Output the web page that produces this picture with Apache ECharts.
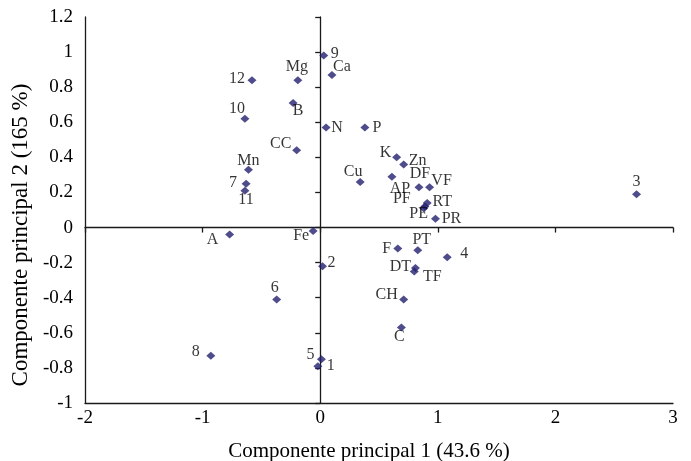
<!DOCTYPE html>
<html>
<head>
<meta charset="utf-8">
<script src="https://cdn.jsdelivr.net/npm/echarts@6/dist/echarts.min.js"></script>
<style>
html,body{margin:0;padding:0;background:#fff;}
#chart{width:691px;height:461px;}
</style>
</head>
<body>
<div id="chart"></div>
<script>
// ---- data ----
var pointNames = ['9','Ca','12','Mg','B','10','N','P','CC','Mn','7','11','Cu','K','Zn','AP','DF','VF','PF','RT','PE','PR','F','PT','4','A','Fe','2','DT','TF','6','CH','C','8','5','1','3'];
var pc1 = [0.03,0.10,-0.58,-0.19,-0.23,-0.64,0.05,0.38,-0.20,-0.61,-0.63,-0.64,0.34,0.65,0.71,0.61,0.84,0.93,0.89,0.91,0.88,0.98,0.66,0.83,1.08,-0.77,-0.06,0.02,0.81,0.80,-0.37,0.71,0.69,-0.93,0.01,-0.02,2.69];
var pc2 = [0.98,0.87,0.84,0.84,0.71,0.62,0.57,0.57,0.44,0.33,0.25,0.21,0.26,0.40,0.36,0.29,0.23,0.23,0.12,0.14,0.11,0.05,-0.12,-0.13,-0.17,-0.04,-0.02,-0.22,-0.23,-0.25,-0.41,-0.41,-0.57,-0.73,-0.75,-0.79,0.19];
var xTicks = {min:-2, max:3, step:1};
var yTicks = {min:-1, max:1.2, step:0.2};
var xTitle = 'Componente principal 1 (43.6 %)';
var yTitle = 'Componente principal 2 (165 %)';

// ---- label placement (style) ----
var labelOffsets = {
  '9':[11,-2],'Ca':[10,-8],'12':[-15,-1],'Mg':[-1,-13],'B':[5,8],'10':[-8,-10],
  'N':[11,0],'P':[12,0],'CC':[-16,-7],'Mn':[0,-9],'7':[-13,-1],'11':[1,9],
  'Cu':[-7,-10],'K':[-11,-5],'Zn':[14,-4],'AP':[8,12],'DF':[1,-13],'VF':[12,-6],
  'PF':[-23,-8],'RT':[15,-1],'PE':[-5,6],'PR':[16,0],'F':[-11,0],'PT':[4,-11],
  '4':[17,-4],'A':[-17,5],'Fe':[-12,5],'2':[9,-3],'DT':[-15,-1],'TF':[18,5],
  '6':[-2,-12],'CH':[-17,-5],'C':[-2,9],'8':[-15,-4],'5':[-11,-4],'1':[13,0],'3':[0,-12]
};

var FONT = '"Liberation Serif","Times New Roman",serif';
var seriesData = pointNames.map(function(n,i){
  return {
    name:n, value:[pc1[i], pc2[i]],
    label:{show:true, formatter:n, position:'inside', offset:labelOffsets[n]||[10,0],
      color:'#000', fontFamily:FONT, fontSize:16, align:'center', verticalAlign:'middle'}
  };
});

var chart = echarts.init(document.getElementById('chart'), null, {renderer:'canvas'});
var lineStyle = {color:'#1a1a1a', width:1.3};
chart.setOption({
  animation:false,
  backgroundColor:'#fff',
  grid:{left:85, right:18, top:17, bottom:58, containLabel:false, outerBoundsMode:'none'},
  xAxis:[
    {type:'value', min:xTicks.min, max:xTicks.max, interval:xTicks.step, position:'bottom',
     axisLine:{onZero:false, lineStyle:lineStyle}, axisTick:{show:false},
     axisLabel:{color:'#000', fontFamily:FONT, fontSize:19, margin:6},
     splitLine:{show:false},
     name:xTitle, nameLocation:'middle', nameGap:38,
     nameTextStyle:{color:'#000', fontFamily:FONT, fontSize:21, padding:[0,20,0,0]}},
    {type:'value', min:xTicks.min, max:xTicks.max, interval:xTicks.step, position:'top',
     axisLine:{onZero:true, onZeroAxisIndex:0, lineStyle:lineStyle},
     axisTick:{show:true, inside:true, length:5, lineStyle:lineStyle},
     axisLabel:{show:false}, splitLine:{show:false}}
  ],
  yAxis:[
    {type:'value', min:yTicks.min, max:yTicks.max, interval:yTicks.step, position:'left',
     axisLine:{onZero:false, show:true, lineStyle:lineStyle}, axisTick:{show:false},
     axisLabel:{color:'#000', fontFamily:FONT, fontSize:19, margin:12},
     splitLine:{show:false},
     name:yTitle, nameLocation:'middle', nameGap:50,
     nameTextStyle:{color:'#000', fontFamily:FONT, fontSize:23, padding:[0,50,0,0]}},
    {type:'value', min:yTicks.min, max:yTicks.max, interval:yTicks.step, position:'right',
     axisLine:{onZero:true, onZeroAxisIndex:0, show:true, lineStyle:lineStyle},
     axisTick:{show:true, inside:true, length:5, lineStyle:lineStyle},
     axisLabel:{show:false}, splitLine:{show:false}}
  ],
  series:[{
    type:'scatter', xAxisIndex:0, yAxisIndex:0,
    symbol:'diamond', symbolSize:[9,8],
    itemStyle:{color:'#231F6E'},
    data:seriesData
  }]
});
</script>
</body>
</html>
